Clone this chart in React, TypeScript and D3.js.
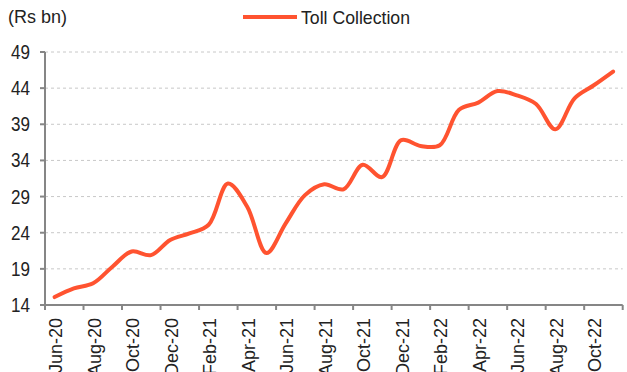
import React from "react";
import * as d3 from "d3";

const months = [
  "Jun-20","Jul-20","Aug-20","Sep-20","Oct-20","Nov-20","Dec-20","Jan-21","Feb-21","Mar-21",
  "Apr-21","May-21","Jun-21","Jul-21","Aug-21","Sep-21","Oct-21","Nov-21","Dec-21","Jan-22",
  "Feb-22","Mar-22","Apr-22","May-22","Jun-22","Jul-22","Aug-22","Sep-22","Oct-22","Nov-22",
];
const tollCollection = [
  15.1, 16.3, 17.0, 19.3, 21.4, 20.9, 23.0, 23.9, 25.1, 30.8,
  27.6, 21.2, 25.3, 29.2, 30.7, 30.0, 33.4, 31.7, 36.8, 36.0,
  36.1, 41.0, 42.0, 43.6, 43.0, 41.8, 38.3, 42.6, 44.4, 46.3,
];
const yTicks = [14, 19, 24, 29, 34, 39, 44, 49];
const seriesName = "Toll Collection";
const unitLabel = "(Rs bn)";

const W = 627;
const H = 372;
const left = 45;
const right = 622.7;
const top = 52;
const bottom = 305;
const lineColor = "#FF5330";
const axisColor = "#868686";
const textColor = "#222222";
const font = "'Liberation Sans', Arial, sans-serif";

export default function App() {
  const x = d3.scaleBand<string>().domain(months).range([left, right]).paddingInner(0).paddingOuter(0);
  const y = d3.scaleLinear().domain([14, 49]).range([bottom, top]);
  const cx = (m: string) => (x(m) as number) + x.bandwidth() / 2;

  const line = d3
    .line<number>()
    .x((_, i) => cx(months[i]))
    .y((d) => y(d))
    .curve(d3.curveCatmullRom.alpha(0.5));

  const tickXs = months.filter((_, i) => i % 2 === 0).map((m) => x(m) as number).concat([right]);
  const labelMonths = months.filter((_, i) => i % 2 === 0);

  return (
    <svg width={W} height={H} style={{ position: "absolute", left: 0, top: 0, background: "#fff" }}>
      {yTicks.filter((t) => t !== 14).map((t) => (
        <line key={"g" + t} x1={left} x2={right} y1={y(t)} y2={y(t)} stroke="#C8C8C8" strokeWidth={1} strokeDasharray="3,3" />
      ))}
      <line x1={left} x2={left} y1={top} y2={bottom} stroke={axisColor} strokeWidth={2} />
      {yTicks.map((t) => (
        <g key={"y" + t}>
          <line x1={left - 5} x2={left} y1={y(t)} y2={y(t)} stroke={axisColor} strokeWidth={2} />
          <text
            transform={`translate(30,${y(t)}) scale(0.95,1.08)`}
            dy="0.36em"
            textAnchor="end"
            fontFamily={font}
            fontSize={18}
            fill={textColor}
          >
            {t}
          </text>
        </g>
      ))}
      <line x1={left} x2={right} y1={bottom} y2={bottom} stroke={axisColor} strokeWidth={2} />
      {tickXs.map((tx, i) => (
        <line key={"xt" + i} x1={tx} x2={tx} y1={bottom} y2={bottom + 5} stroke={axisColor} strokeWidth={2} />
      ))}
      {labelMonths.map((m) => (
        <text
          key={"xl" + m}
          transform={`translate(${cx(m) + 1},318) rotate(-90)`}
          dy="0.36em"
          textAnchor="end"
          fontFamily={font}
          fontSize={18}
          fill={textColor}
        >
          {m}
        </text>
      ))}
      <path d={line(tollCollection) || ""} fill="none" stroke={lineColor} strokeWidth={4} strokeLinecap="round" strokeLinejoin="round" />
      <text x={8} y={17} dy="0.36em" fontFamily={font} fontSize={18} fill={textColor} textLength={59} lengthAdjust="spacingAndGlyphs">
        {unitLabel}
      </text>
      <line x1={243} x2={297} y1={17} y2={17} stroke={lineColor} strokeWidth={4} />
      <text x={301} y={17} dy="0.36em" fontFamily={font} fontSize={19} fill={textColor} textLength={109} lengthAdjust="spacingAndGlyphs">
        {seriesName}
      </text>
    </svg>
  );
}
